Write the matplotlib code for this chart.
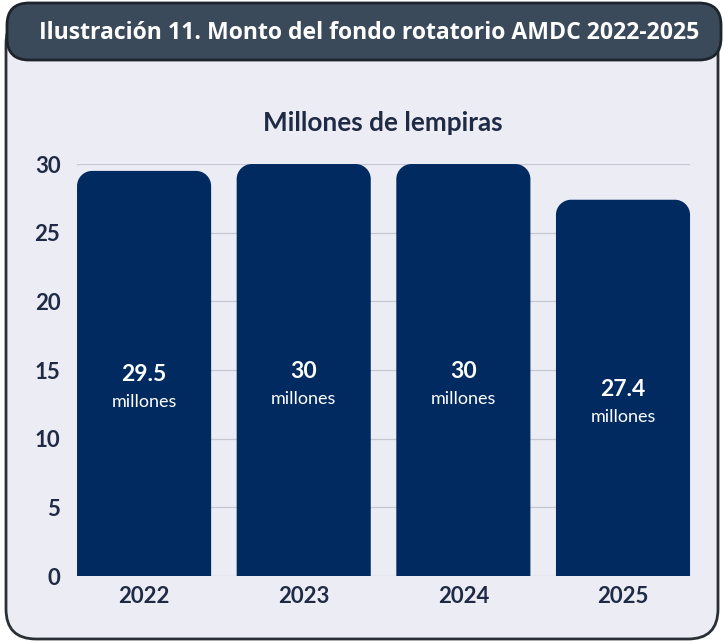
import matplotlib.pyplot as plt
from matplotlib.patches import FancyBboxPatch, PathPatch
from matplotlib.path import Path

# Data
years = ["2022", "2023", "2024", "2025"]
montos = [29.5, 30, 30, 27.4]
labels = ["29.5", "30", "30", "27.4"]

navy = "#012A60"
dark = "#1F2B45"
card_bg = "#ECECF5"

fig = plt.figure(figsize=(7.24, 6.42), dpi=100)
fig.patch.set_facecolor("white")

# Card background and header (inches, so corners stay round)
card = FancyBboxPatch((0.06, 0.03), 7.12, 6.25, boxstyle="round,pad=0,rounding_size=0.3",
                      transform=fig.dpi_scale_trans, facecolor=card_bg, edgecolor="#2A2F36", lw=2,
                      zorder=-2)
fig.patches.append(card)
header = FancyBboxPatch((0.07, 5.82), 7.14, 0.57, boxstyle="round,pad=0,rounding_size=0.22",
                        transform=fig.dpi_scale_trans, facecolor="#3B4A5B", edgecolor="#1E242B", lw=2,
                        zorder=-1)
fig.patches.append(header)
fig.text(0.51, 0.949, "Ilustración 11. Monto del fondo rotatorio AMDC 2022-2025", color="white",
         fontsize=16.6, fontweight="bold", family="Open Sans", ha="center", va="center")

ax = fig.add_axes([0.1064, 0.1028, 0.8467, 0.6417])
ax.set_facecolor("none")
ax.set_xlim(-0.42, 3.42)
ax.set_ylim(0, 30)
ax.set_yticks(range(0, 31, 5))
ax.grid(axis="y", color="#C4C6D0", lw=0.9)
ax.set_axisbelow(True)
for s in ax.spines.values():
    s.set_visible(False)
ax.tick_params(length=0)
ax.tick_params(axis="y", pad=12)
ax.tick_params(axis="x", pad=7)
ax.set_xticks(range(len(years)))
ax.set_xticklabels(years)
for t in ax.get_xticklabels() + ax.get_yticklabels():
    t.set_fontweight("bold")
    t.set_color(dark)
    t.set_family("Lato")
    t.set_fontsize(16)

# Bars with rounded top corners
w = 0.84
rx, ry = 0.095, 1.1
k = 0.5523
for i, v in enumerate(montos):
    x0, x1 = i - w / 2, i + w / 2
    verts = [(x0, 0), (x0, v - ry),
             (x0, v - ry + k * ry), (x0 + rx - k * rx, v), (x0 + rx, v),
             (x1 - rx, v),
             (x1 - rx + k * rx, v), (x1, v - ry + k * ry), (x1, v - ry),
             (x1, 0), (x0, 0)]
    codes = [Path.MOVETO, Path.LINETO,
             Path.CURVE4, Path.CURVE4, Path.CURVE4,
             Path.LINETO,
             Path.CURVE4, Path.CURVE4, Path.CURVE4,
             Path.LINETO, Path.CLOSEPOLY]
    ax.add_patch(PathPatch(Path(verts, codes), facecolor=navy, edgecolor="none", clip_on=False, zorder=3))
    ax.text(i, v / 2 - 0.1, labels[i], color="white", fontsize=16.5, fontweight="bold", family="Lato",
            ha="center", va="center", zorder=4)
    ax.text(i, v / 2 - 2.1, "millones", color="white", fontsize=13, family="Lato",
            ha="center", va="center", zorder=4)

fig.text(0.529, 0.808, "Millones de lempiras", color=dark, fontsize=18.8, fontweight="bold",
         family="Lato", ha="center", va="center")

fig.savefig("out.png", dpi=100)
